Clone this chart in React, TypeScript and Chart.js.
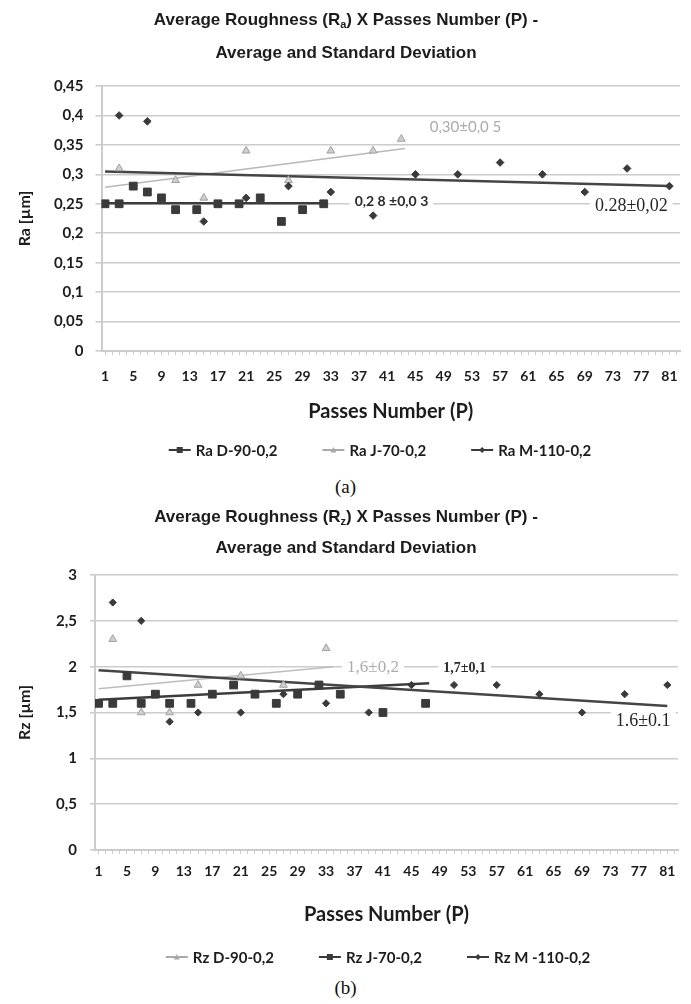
import React, { useEffect, useRef } from 'react';
import { Chart, registerables } from 'chart.js';

Chart.register(...registerables);

// ---------------- (a) Ra data ----------------
const raDX = [1, 3, 5, 7, 9, 11, 14, 17, 20, 23, 26, 29, 32];
const raDY = [0.25, 0.25, 0.28, 0.27, 0.26, 0.24, 0.24, 0.25, 0.25, 0.26, 0.22, 0.24, 0.25];
const raJX = [3, 11, 15, 21, 27, 33, 39, 43];
const raJY = [0.31, 0.29, 0.26, 0.34, 0.29, 0.34, 0.34, 0.36];
const raMX = [3, 7, 15, 21, 27, 33, 39, 45, 51, 57, 63, 69, 75, 81];
const raMY = [0.4, 0.39, 0.22, 0.26, 0.28, 0.27, 0.23, 0.3, 0.3, 0.32, 0.3, 0.27, 0.31, 0.28];
const raTrendDX = [1, 32];
const raTrendDY = [0.251, 0.251];
const raTrendJX = [1, 43.5];
const raTrendJY = [0.278, 0.344];
const raTrendMX = [1, 81];
const raTrendMY = [0.305, 0.28];
const raYTicks = [0, 0.05, 0.1, 0.15, 0.2, 0.25, 0.3, 0.35, 0.4, 0.45];
const raLegend = ['Ra D-90-0,2', 'Ra J-70-0,2', 'Ra M-110-0,2'];

// ---------------- (b) Rz data ----------------
const rzDX = [3, 7, 11, 15, 21, 27, 33];
const rzDY = [2.3, 1.5, 1.5, 1.8, 1.9, 1.8, 2.2];
const rzJX = [1, 3, 5, 7, 9, 11, 14, 17, 20, 23, 26, 29, 32, 35, 41, 47];
const rzJY = [1.6, 1.6, 1.9, 1.6, 1.7, 1.6, 1.6, 1.7, 1.8, 1.7, 1.6, 1.7, 1.8, 1.7, 1.5, 1.6];
const rzMX = [3, 7, 11, 15, 21, 27, 33, 39, 45, 51, 57, 63, 69, 75, 81];
const rzMY = [2.7, 2.5, 1.4, 1.5, 1.5, 1.7, 1.6, 1.5, 1.8, 1.8, 1.8, 1.7, 1.5, 1.7, 1.8];
const rzTrendDX = [1, 34];
const rzTrendDY = [1.76, 2.0];
const rzTrendJX = [1, 47.5];
const rzTrendJY = [1.64, 1.82];
const rzTrendMX = [1, 81];
const rzTrendMY = [1.96, 1.57];
const rzYTicks = [0, 0.5, 1, 1.5, 2, 2.5, 3];
const rzLegend = ['Rz D-90-0,2', 'Rz J-70-0,2', 'Rz M -110-0,2'];

// x axis: categories (passes) and shown labels
const passes = Array.from({ length: 82 }, (_, i) => i + 1);
const xTickLabels = [1, 5, 9, 13, 17, 21, 25, 29, 33, 37, 41, 45, 49, 53, 57, 61, 65, 69, 73, 77, 81];

const W = 691;
const DARK = '#3a3a3a';
const LIGHT = '#a9a9a9';
const GRID = '#cccccc';
const TXT = '#1c1c1c';

type Part = { t: string; sub?: boolean };
type LegendItem = { text: string; color: string; style: 'rect' | 'triangle' | 'rectRot' };
type Ann = { text: string; x: number; y: number; font: string; color: string };

const pts = (xs: number[], ys: number[]) => xs.map((x, i) => ({ x, y: ys[i] }));
const fmt = (v: number) => String(Math.round(v * 100) / 100).replace('.', ',');

function drawMarker(ctx: CanvasRenderingContext2D, style: string, x: number, y: number, r: number) {
  ctx.beginPath();
  if (style === 'rect') {
    ctx.rect(x - r, y - r, 2 * r, 2 * r);
  } else if (style === 'triangle') {
    ctx.moveTo(x, y - r);
    ctx.lineTo(x + r, y + r * 0.8);
    ctx.lineTo(x - r, y + r * 0.8);
    ctx.closePath();
  } else {
    ctx.moveTo(x, y - r);
    ctx.lineTo(x + r, y);
    ctx.lineTo(x, y + r);
    ctx.lineTo(x - r, y);
    ctx.closePath();
  }
  ctx.fill();
}

function makeChart(canvas: HTMLCanvasElement, spec: any) {
  const { H, plot } = spec;

  const titlePlugin = {
    id: 'twoLineTitle',
    afterDraw(chart: any) {
      const ctx: CanvasRenderingContext2D = chart.ctx;
      ctx.save();
      ctx.fillStyle = TXT;
      ctx.textBaseline = 'middle';
      ctx.textAlign = 'left';
      const size = spec.titleSize;
      const main = `bold ${size}px "Liberation Sans", Arial, sans-serif`;
      const sub = `bold ${Math.round(size * 0.62)}px "Liberation Sans", Arial, sans-serif`;
      (spec.title as Part[][]).forEach((parts, i) => {
        const y = spec.titleY[i];
        let total = 0;
        parts.forEach((p) => {
          ctx.font = p.sub ? sub : main;
          total += ctx.measureText(p.t).width;
        });
        let x = spec.titleCx - total / 2;
        parts.forEach((p) => {
          ctx.font = p.sub ? sub : main;
          ctx.fillText(p.t, x, p.sub ? y + size * 0.32 : y);
          x += ctx.measureText(p.t).width;
        });
      });
      ctx.restore();
    },
  };

  const legendPlugin = {
    id: 'lineMarkerLegend',
    afterDraw(chart: any) {
      const ctx: CanvasRenderingContext2D = chart.ctx;
      const items: LegendItem[] = spec.legend;
      ctx.save();
      ctx.font = 'bold 15px Lato, sans-serif';
      ctx.textBaseline = 'middle';
      ctx.textAlign = 'left';
      const sample = 22;
      const gapIn = 5;
      const gap = spec.legendGap;
      const widths = items.map((it) => sample + gapIn + ctx.measureText(it.text).width);
      const total = widths.reduce((a, b) => a + b, 0) + gap * (items.length - 1);
      let x = spec.legendCx - total / 2;
      const y = spec.legendY;
      items.forEach((it, i) => {
        ctx.strokeStyle = it.color;
        ctx.fillStyle = it.color;
        ctx.lineWidth = 2;
        ctx.beginPath();
        ctx.moveTo(x, y);
        ctx.lineTo(x + sample, y);
        ctx.stroke();
        drawMarker(ctx, it.style, x + sample / 2, y, 3);
        ctx.fillStyle = TXT;
        ctx.fillText(it.text, x + sample + gapIn, y + 1);
        x += widths[i] + gap;
      });
      ctx.restore();
    },
  };

  const annPlugin = {
    id: 'trendLabels',
    afterDatasetsDraw(chart: any) {
      const ctx: CanvasRenderingContext2D = chart.ctx;
      const xs = chart.scales.x;
      const ys = chart.scales.y;
      ctx.save();
      ctx.textAlign = 'center';
      ctx.textBaseline = 'middle';
      (spec.annotations as Ann[]).forEach((a) => {
        const px = xs.getPixelForValue(a.x);
        const py = ys.getPixelForValue(a.y);
        ctx.font = a.font;
        const w = ctx.measureText(a.text).width;
        ctx.fillStyle = '#ffffff';
        ctx.fillRect(px - w / 2 - 5, py - 10, w + 10, 20);
        ctx.fillStyle = a.color;
        ctx.fillText(a.text, px, py);
      });
      ctx.restore();
    },
  };

  return new Chart(canvas, {
    type: 'scatter',
    data: { datasets: spec.datasets },
    plugins: [annPlugin, titlePlugin, legendPlugin],
    options: {
      animation: false,
      responsive: false,
      devicePixelRatio: 1,
      events: [],
      layout: {
        padding: {
          left: 0,
          right: W - plot.right,
          top: plot.top,
          bottom: H - plot.bottom - spec.xAxisH,
        },
      },
      plugins: {
        legend: { display: false },
        title: { display: false },
        tooltip: { enabled: false },
      },
      scales: {
        x: {
          type: 'linear',
          min: 0.5,
          max: 82.5,
          afterBuildTicks: (s: any) => {
            s.ticks = passes.map((v) => ({ value: v }));
          },
          afterFit: (s: any) => {
            s.height = spec.xAxisH;
          },
          ticks: {
            autoSkip: false,
            maxRotation: 0,
            minRotation: 0,
            padding: spec.xTickPad,
            color: TXT,
            font: { family: 'Lato', weight: 'bold', size: 14 },
            callback: (v: any) => (xTickLabels.includes(Number(v)) ? String(v) : ''),
          },
          grid: { drawOnChartArea: false, drawTicks: true, tickLength: 4, color: GRID, lineWidth: 1 },
          border: { display: true, color: GRID, width: 2 },
          title: {
            display: true,
            text: 'Passes Number (P)',
            color: TXT,
            font: { family: 'Lato', weight: 'bold', size: 20 },
            padding: { top: 0, bottom: spec.xTitlePadB },
          },
        },
        y: {
          min: 0,
          max: spec.yMax,
          afterBuildTicks: (s: any) => {
            s.ticks = (spec.yTicks as number[]).map((v) => ({ value: v }));
          },
          afterFit: (s: any) => {
            s.width = plot.left;
          },
          ticks: {
            padding: spec.yTickPad,
            color: TXT,
            font: { family: 'Lato', weight: 'bold', size: 15 },
            callback: (v: any) => fmt(Number(v)),
          },
          grid: { color: GRID, lineWidth: 1.6, tickLength: spec.yTickLen, drawTicks: true },
          border: { display: true, color: GRID, width: 2 },
          title: {
            display: true,
            text: spec.yTitle,
            color: TXT,
            font: { family: 'Lato', weight: 'bold', size: 16 },
            padding: { top: 15, bottom: 0 },
          },
        },
      },
    } as any,
  });
}

const markerSet = (data: any[], style: string, color: string, border: string, r: number, order: number) => ({
  data,
  pointStyle: style,
  pointRadius: r,
  backgroundColor: color,
  borderColor: border,
  borderWidth: 1,
  showLine: false,
  order,
});

const trendSet = (data: any[], color: string, width: number, order: number) => ({
  data,
  showLine: true,
  pointRadius: 0,
  borderColor: color,
  borderWidth: width,
  backgroundColor: color,
  fill: false,
  order,
});

const specA = {
  H: 470,
  plot: { left: 101.5, right: 680, top: 86, bottom: 351 },
  xAxisH: 83,
  xTickPad: 13,
  xTitlePadB: 10,
  yMax: 0.45,
  yTicks: raYTicks,
  yTitle: 'Ra [µm]',
  yTickPad: 12,
  yTickLen: 6,
  title: [
    [{ t: 'Average Roughness (R' }, { t: 'a', sub: true }, { t: ') X Passes Number (P) -' }],
    [{ t: 'Average and Standard Deviation' }],
  ] as Part[][],
  titleY: [20, 53],
  titleSize: 17,
  titleCx: 346,
  legend: [
    { text: raLegend[0], color: DARK, style: 'rect' },
    { text: raLegend[1], color: LIGHT, style: 'triangle' },
    { text: raLegend[2], color: DARK, style: 'rectRot' },
  ] as LegendItem[],
  legendY: 450,
  legendCx: 380,
  legendGap: 45,
  annotations: [
    { text: '0,30±0,0 5', x: 52.1, y: 0.38, font: '15px Lato, sans-serif', color: '#ababab' },
    { text: '0,2 8 ±0,0 3', x: 41.6, y: 0.254, font: 'bold 14px Lato, sans-serif', color: '#2a2a2a' },
    { text: '0.28±0,02', x: 75.6, y: 0.246, font: '18px "Liberation Serif", serif', color: '#262626' },
  ] as Ann[],
  datasets: [
    markerSet(pts(raDX, raDY), 'rect', DARK, DARK, 5.5, 1),
    markerSet(pts(raJX, raJY), 'triangle', '#cfcfcf', '#a0a0a0', 4.5, 2),
    markerSet(pts(raMX, raMY), 'rectRot', DARK, DARK, 3.8, 0),
    trendSet(pts(raTrendDX, raTrendDY), '#3c3c3c', 2.5, 5),
    trendSet(pts(raTrendJX, raTrendJY), '#b8b8b8', 1.5, 6),
    trendSet(pts(raTrendMX, raTrendMY), '#454545', 2.5, 4),
  ],
};

const specB = {
  H: 476,
  plot: { left: 95, right: 678, top: 78, bottom: 353 },
  xAxisH: 83,
  xTickPad: 9,
  xTitlePadB: 6,
  yMax: 3,
  yTicks: rzYTicks,
  yTitle: 'Rz [µm]',
  yTickPad: 13,
  yTickLen: 5,
  title: [
    [{ t: 'Average Roughness (R' }, { t: 'z', sub: true }, { t: ') X Passes Number (P) -' }],
    [{ t: 'Average and Standard Deviation' }],
  ] as Part[][],
  titleY: [20, 51],
  titleSize: 17,
  titleCx: 346,
  legend: [
    { text: rzLegend[0], color: LIGHT, style: 'triangle' },
    { text: rzLegend[1], color: DARK, style: 'rect' },
    { text: rzLegend[2], color: DARK, style: 'rectRot' },
  ] as LegendItem[],
  legendY: 460,
  legendCx: 378,
  legendGap: 45,
  annotations: [
    { text: '1,6±0,2', x: 39.6, y: 1.996, font: '17px "Liberation Serif", serif', color: '#ababab' },
    { text: '1,7±0,1', x: 52.5, y: 1.985, font: 'bold 14px "Liberation Serif", serif', color: '#2a2a2a' },
    { text: '1.6±0.1', x: 77.6, y: 1.403, font: '18px "Liberation Serif", serif', color: '#262626' },
  ] as Ann[],
  datasets: [
    markerSet(pts(rzDX, rzDY), 'triangle', '#cfcfcf', '#a0a0a0', 4.5, 2),
    markerSet(pts(rzJX, rzJY), 'rect', DARK, DARK, 5.5, 1),
    markerSet(pts(rzMX, rzMY), 'rectRot', DARK, DARK, 3.6, 0),
    trendSet(pts(rzTrendDX, rzTrendDY), '#bdbdbd', 1.5, 6),
    trendSet(pts(rzTrendJX, rzTrendJY), '#3c3c3c', 2.5, 5),
    trendSet(pts(rzTrendMX, rzTrendMY), '#454545', 2.5, 4),
  ],
};

export default function App() {
  const refA = useRef<HTMLCanvasElement>(null);
  const refB = useRef<HTMLCanvasElement>(null);

  useEffect(() => {
    const a = makeChart(refA.current as HTMLCanvasElement, specA);
    const b = makeChart(refB.current as HTMLCanvasElement, specB);
    return () => {
      a.destroy();
      b.destroy();
    };
  }, []);

  const caption: React.CSSProperties = {
    position: 'absolute',
    left: 0,
    width: W,
    textAlign: 'center',
    fontFamily: '"Liberation Serif", "Times New Roman", serif',
    fontSize: 19,
    lineHeight: '22px',
    color: '#111',
  };

  return (
    <div style={{ position: 'absolute', left: 0, top: 0, width: W, height: 1004, background: '#fff', overflow: 'hidden' }}>
      <canvas ref={refA} width={W} height={470} style={{ position: 'absolute', left: 0, top: 0, width: W, height: 470 }} />
      <div style={{ ...caption, top: 476 }}>(a)</div>
      <canvas ref={refB} width={W} height={476} style={{ position: 'absolute', left: 0, top: 497, width: W, height: 476 }} />
      <div style={{ ...caption, top: 977 }}>(b)</div>
    </div>
  );
}
